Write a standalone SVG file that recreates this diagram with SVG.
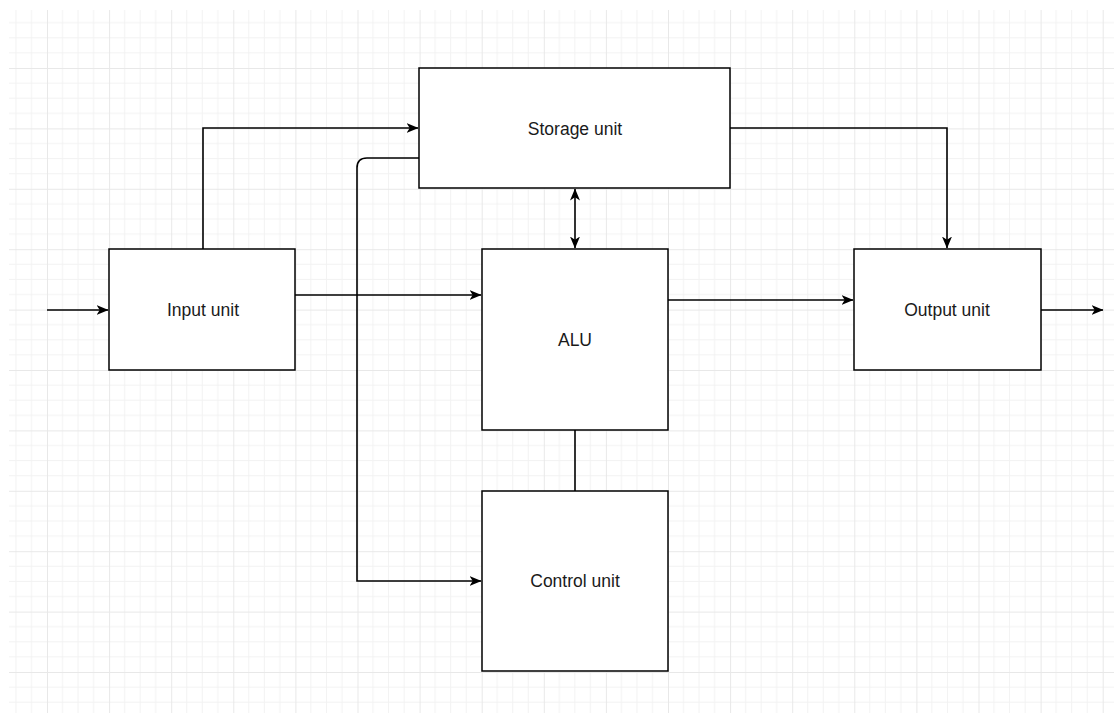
<svg xmlns="http://www.w3.org/2000/svg" width="1114" height="713" viewBox="0 0 1114 713">
  <style>
    .box { fill: #ffffff; stroke: #000000; stroke-width: 1.5; }
    .lbl { font-family: "Liberation Sans", Arial, sans-serif; font-size: 17.5px; fill: #1a1a1a; text-anchor: middle; }
    .edge { fill: none; stroke: #000000; stroke-width: 1.6; }
    .minor { stroke: #f2f2f2; stroke-width: 1; }
    .major { stroke: #e8e8e8; stroke-width: 1; }
  </style>
  <defs>
    <pattern id="grid" patternUnits="userSpaceOnUse" x="47" y="68" width="62.1" height="60.4">
      <path class="minor" d="M15.525,0V60.4M31.05,0V60.4M46.575,0V60.4M0,15.1H62.1M0,30.2H62.1M0,45.3H62.1"/>
      <path class="major" d="M0.5,0V60.4M0,0.5H62.1"/>
    </pattern>
    <marker id="arr" viewBox="0 0 12 10" refX="11.5" refY="5" markerWidth="12" markerHeight="10" markerUnits="userSpaceOnUse" orient="auto-start-reverse">
      <path d="M0,0 L12,5 L0,10 L3.2,5 Z" fill="#000000"/>
    </marker>
  </defs>
  <rect x="0" y="0" width="1114" height="713" fill="#ffffff"/>
  <rect x="9" y="10" width="1105" height="703" fill="url(#grid)"/>

  <g id="connectors">
    <path class="edge" d="M47,310 H108" marker-end="url(#arr)"/>
    <path class="edge" d="M203,249 V128 H418" marker-end="url(#arr)"/>
    <path class="edge" d="M419,158 H367 Q357,158 357,168 V581 H481" marker-end="url(#arr)"/>
    <path class="edge" d="M295,295 H481" marker-end="url(#arr)"/>
    <path class="edge" d="M575,189 V248" marker-start="url(#arr)" marker-end="url(#arr)"/>
    <path class="edge" d="M730,128 H947 V248" marker-end="url(#arr)"/>
    <path class="edge" d="M668,300 H853" marker-end="url(#arr)"/>
    <path class="edge" d="M1041,310 H1103" marker-end="url(#arr)"/>
    <path class="edge" d="M575,430 V491"/>
  </g>

  <g id="storage">
    <rect class="box" x="419" y="68" width="311" height="120"/>
    <text class="lbl" x="575" y="135">Storage unit</text>
  </g>
  <g id="input">
    <rect class="box" x="109" y="249" width="186" height="121"/>
    <text class="lbl" x="203" y="316">Input unit</text>
  </g>
  <g id="alu">
    <rect class="box" x="482" y="249" width="186" height="181"/>
    <text class="lbl" x="575" y="346">ALU</text>
  </g>
  <g id="output">
    <rect class="box" x="854" y="249" width="187" height="121"/>
    <text class="lbl" x="947" y="316">Output unit</text>
  </g>
  <g id="control">
    <rect class="box" x="482" y="491" width="186" height="180"/>
    <text class="lbl" x="575" y="587">Control unit</text>
  </g>
</svg>
